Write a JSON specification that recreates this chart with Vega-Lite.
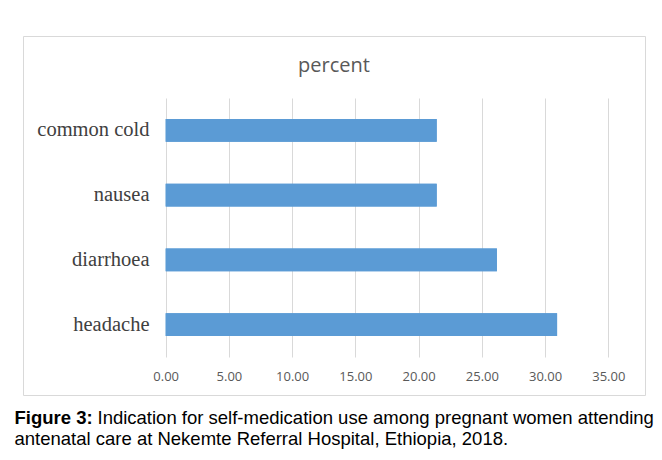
{
  "$schema": "https://vega.github.io/schema/vega-lite/v6.json",
  "width": 622,
  "height": 359,
  "autosize": "none",
  "padding": {"left": 23, "top": 36, "right": 17, "bottom": 65},
  "background": "white",
  "title": {
    "text": "percent",
    "frame": "group",
    "anchor": "middle",
    "dy": 44,
    "font": "Open Sans",
    "fontSize": 20,
    "fontWeight": "normal",
    "color": "#595959"
  },
  "data": {
    "values": [
      {"indication": "common cold", "percent": 21.43},
      {"indication": "nausea", "percent": 21.43},
      {"indication": "diarrhoea", "percent": 26.19},
      {"indication": "headache", "percent": 30.95}
    ]
  },
  "layer": [
    {
      "mark": {"type": "bar", "color": "#5b9bd5"},
      "encoding": {
        "y": {
          "field": "indication",
          "type": "nominal",
          "sort": ["common cold", "nausea", "diarrhoea", "headache"],
          "scale": {"range": [62, 321], "paddingInner": 0.65, "paddingOuter": 0.325},
          "axis": {
            "offset": -132,
            "domain": false,
            "ticks": false,
            "labelPadding": 6,
            "labelFont": "Liberation Serif",
            "labelFontSize": 20.5,
            "labelColor": "#404040",
            "title": "Figure 3:",
            "titleAngle": 0,
            "titleAlign": "left",
            "titleBaseline": "alphabetic",
            "titleX": -141,
            "titleY": 387,
            "titleFont": "Liberation Sans",
            "titleFontSize": 18.5,
            "titleFontWeight": "bold",
            "titleColor": "#000000"
          }
        },
        "x": {
          "field": "percent",
          "type": "quantitative",
          "scale": {"domain": [0, 35], "range": [142.7, 585.3], "nice": false, "zero": true},
          "axis": {
            "values": [0, 5, 10, 15, 20, 25, 30, 35],
            "format": ".2f",
            "offset": -38,
            "domain": false,
            "grid": false,
            "ticks": true,
            "tickSize": -259,
            "tickColor": "#d9d9d9",
            "tickWidth": 1,
            "labelPadding": 278,
            "labelFlush": false,
            "labelOverlap": false,
            "labelFont": "Open Sans",
            "labelFontSize": 13,
            "labelColor": "#595959",
            "labelBaseline": "middle",
            "title": "Indication for self-medication use among pregnant women attending",
            "titleAnchor": "start",
            "titleAlign": "left",
            "titleBaseline": "alphabetic",
            "titleX": 74,
            "titleY": 66,
            "titleFont": "Liberation Sans",
            "titleFontSize": 18.5,
            "titleFontWeight": "normal",
            "titleColor": "#000000"
          }
        }
      }
    },
    {
      "mark": {"type": "bar", "color": "#5b9bd5"},
      "encoding": {
        "y": {
          "field": "indication",
          "type": "nominal",
          "sort": ["common cold", "nausea", "diarrhoea", "headache"]
        },
        "x": {
          "field": "percent",
          "type": "quantitative",
          "axis": {
            "orient": "top",
            "domain": false,
            "ticks": false,
            "labels": false,
            "grid": false,
            "title": "antenatal care at Nekemte Referral Hospital, Ethiopia, 2018.",
            "titleAnchor": "start",
            "titleAlign": "left",
            "titleBaseline": "alphabetic",
            "titleX": -9,
            "titleY": 408,
            "titleFont": "Liberation Sans",
            "titleFontSize": 18.5,
            "titleFontWeight": "normal",
            "titleColor": "#000000"
          }
        }
      }
    }
  ],
  "resolve": {"axis": {"x": "independent"}},
  "config": {"view": {"stroke": "#d9d9d9", "strokeWidth": 1}}
}
